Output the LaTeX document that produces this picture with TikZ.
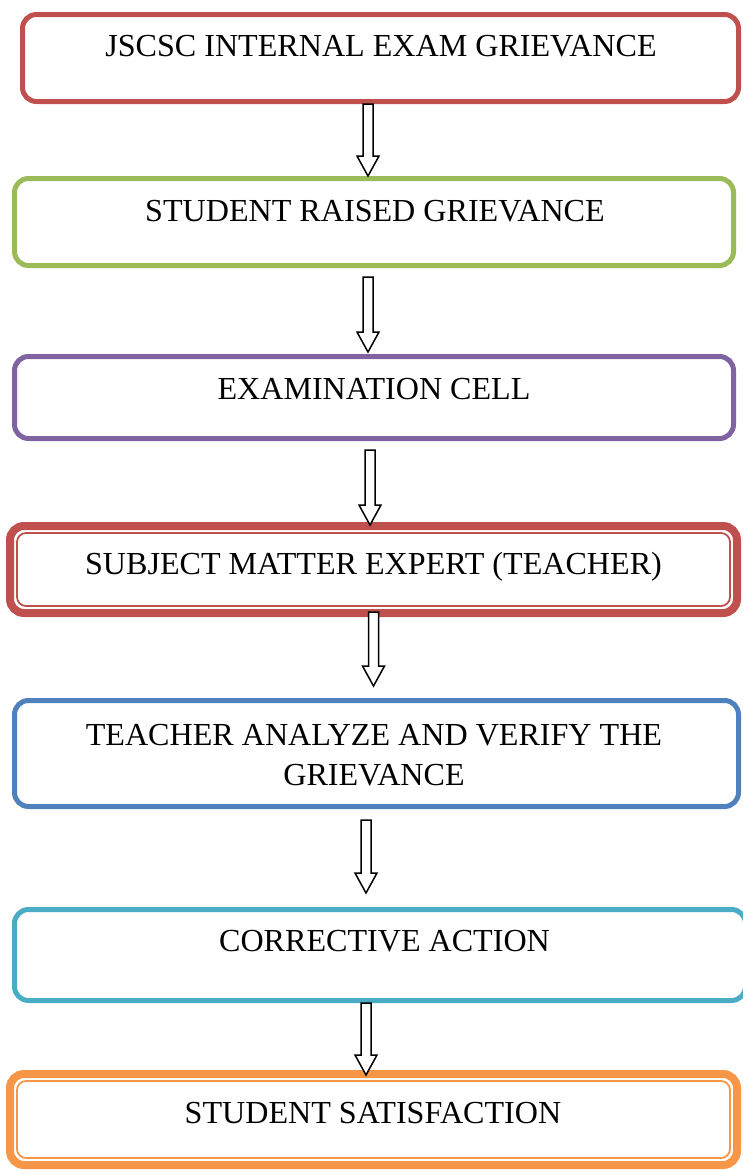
\documentclass[tikz,border=0pt]{standalone}
\usepackage{fontspec}
\setmainfont{Liberation Serif}
\usetikzlibrary{calc}
\usetikzlibrary{positioning}

\definecolor{stagered}{HTML}{C0504D}
\definecolor{stagegreen}{HTML}{9BBB59}
\definecolor{stagepurple}{HTML}{8064A2}
\definecolor{stageblue}{HTML}{4F81BD}
\definecolor{stagecyan}{HTML}{4BACC6}
\definecolor{stageorange}{HTML}{F79646}

\tikzset{
	stage/.style={draw, rounded corners=14pt, line width=5pt, inner sep=0pt, outer sep=0pt},
	bigstage/.style={stage, line width=8pt},
	innerline/.style={line width=1.8pt, rounded corners=9pt},
	caption/.style={anchor=base, inner sep=0pt, align=center, font=\fontsize{32.1}{40}\selectfont},
	blk/.style={draw, fill=white, line width=1.5pt, sharp corners, to path={
		let \p1=(\tikztostart), \p2=(\tikztotarget) in
		(\x1-5pt,\y1) -- (\x1-5pt,\y2+20pt) -- (\x1-11pt,\y2+20pt) -- (\x1,\y2)
		-- (\x1+11pt,\y2+20pt) -- (\x1+5pt,\y2+20pt) -- (\x1+5pt,\y1) -- cycle}}
}

\begin{document}
\begin{tikzpicture}[x=1pt, y=-1pt]
			\useasboundingbox (0,0) rectangle (743,1171);

			% boxes
			\node[stage, draw=stagered, minimum width=716pt, minimum height=87pt] (jscsc) at (380.5,58) {};
			\node[stage, draw=stagegreen, minimum width=719pt, minimum height=87pt] (raised) at (374,222) {};
			\node[stage, draw=stagepurple, minimum width=719pt, minimum height=82pt] (cell) at (374,397.5) {};
			\node[bigstage, draw=stagered, minimum width=727pt, minimum height=87pt] (expert) at (373.5,569.5) {};
			\node[stage, draw=stageblue, minimum width=724pt, minimum height=106pt] (analyze) at (376.5,753.5) {};
			\node[stage, draw=stagecyan, minimum width=731pt, minimum height=91pt] (action) at (380,955) {};
			\node[bigstage, draw=stageorange, minimum width=727pt, minimum height=91pt] (satisfy) at (373.5,1119.5) {};

			\path[draw, innerline, stagered] ($(expert.north west)+(7pt,-7pt)$) rectangle ($(expert.south east)+(-7pt,7pt)$);
			\path[draw, innerline, stageorange] ($(satisfy.north west)+(7pt,-7pt)$) rectangle ($(satisfy.south east)+(-7pt,7pt)$);

			% texts
			\node[caption] (jscsc-txt) at (381,56.5) {JSCSC INTERNAL EXAM GRIEVANCE};
			\node[caption] (raised-txt) at (375,221.5) {STUDENT RAISED GRIEVANCE};
			\node[caption] (cell-txt) at (374,399.5) {EXAMINATION CELL};
			\node[caption] (expert-txt) at (373.5,574.5) {SUBJECT MATTER EXPERT (TEACHER)};
			\node[caption, anchor=center] (analyze-txt) at (374,755) {TEACHER ANALYZE AND VERIFY THE\\GRIEVANCE};
			\node[caption] (action-txt) at (384.5,951.5) {CORRECTIVE ACTION};
			\node[caption] (satisfy-txt) at (373,1123.5) {STUDENT SATISFACTION};

			% arrows
			\path[blk] ([xshift=-12.5pt, yshift=-2.5pt]jscsc.south) to ([yshift=2.5pt]raised.north);
			\path[blk] ([xshift=-6pt, yshift=-11.5pt]raised.south) to ([yshift=4.5pt]cell.north);
			\path[blk] ([xshift=-4pt, yshift=-11.5pt]cell.south) to ([yshift=1pt]expert.north);
			\path[blk] ([yshift=1pt]expert.south) to ([yshift=14.5pt]analyze.north);
			\path[blk] ([xshift=-10.5pt, yshift=-13.5pt]analyze.south) to ([yshift=16.5pt]action.north);
			\path[blk] ([xshift=-14pt, yshift=-2.5pt]action.south) to ([yshift=-1pt]satisfy.north);
\end{tikzpicture}
\end{document}
